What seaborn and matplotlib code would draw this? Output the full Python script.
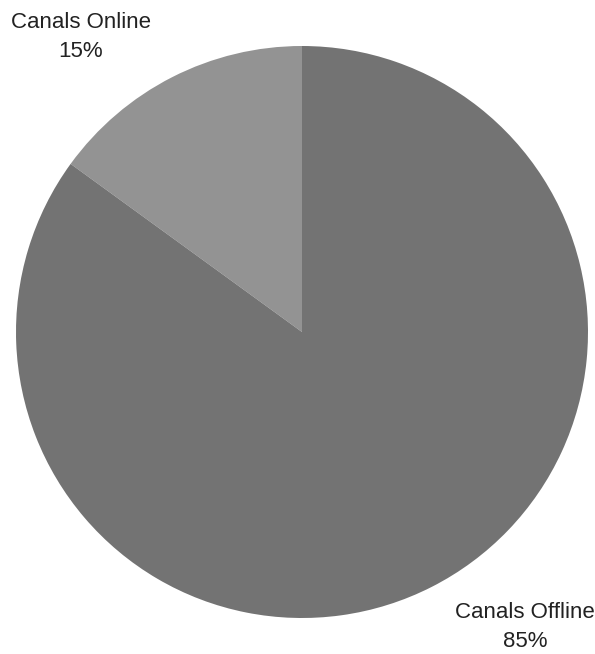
import matplotlib
matplotlib.use("Agg")
import matplotlib.pyplot as plt
import seaborn as sns

categories = ["Canals Online", "Canals Offline"]
shares = [15, 85]
colors = ["#939393", "#737373"]

sns.set_theme(style="white")
plt.rcParams['font.family'] = ['Liberation Sans', 'DejaVu Sans']

W, H = 595, 654
fig = plt.figure(figsize=(W / 100, H / 100), dpi=100)
ax = fig.add_axes([0, 0, 1, 1])
cx, cy, r = 302, 332, 286

ax.pie(shares, colors=colors, startangle=90, counterclock=True, radius=1,
       wedgeprops=dict(linewidth=0), center=(0, 0), frame=False)
ax.set_xlim(-cx / r, (W - cx) / r)
ax.set_ylim(-(H - cy) / r, cy / r)
ax.set_aspect("equal")
ax.axis("off")

label_pos = {"Canals Online": (81, 37), "Canals Offline": (525, 627)}
for cat, val in zip(categories, shares):
    px, py = label_pos[cat]
    ax.text((px - cx) / r, (cy - py) / r, f"{cat}\n{val}%", ha="center", va="center",
            fontsize=16, color="#222222", linespacing=1.55)

fig.savefig("out.png", dpi=100)
